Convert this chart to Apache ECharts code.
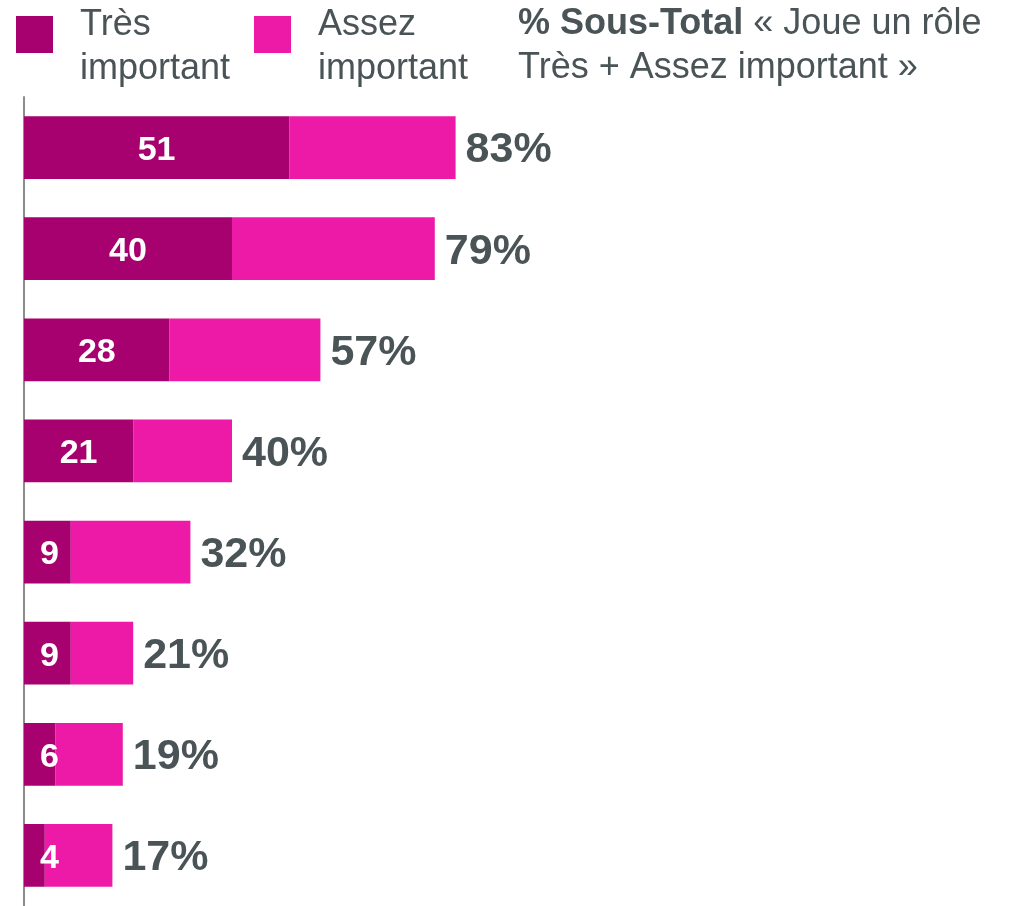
<!DOCTYPE html>
<html>
<head>
<meta charset="utf-8">
<script src="https://cdn.jsdelivr.net/npm/echarts@6/dist/echarts.min.js"></script>
<style>
  html, body { margin: 0; padding: 0; background: #fff; }
  #chart { width: 1012px; height: 906px; }
</style>
</head>
<body>
<div id="chart"></div>
<script>
// données
const categories = ['r1', 'r2', 'r3', 'r4', 'r5', 'r6', 'r7', 'r8'];
const tresImportant = [51, 40, 28, 21, 9, 9, 6, 4];
const sousTotal = [83, 79, 57, 40, 32, 21, 19, 17];
const assezImportant = [32, 39, 29, 19, 23, 12, 13, 13];
const legendNames = ['Très important', 'Assez important'];

const DARK = '#A7006F';
const PINK = '#EC1AA6';
const GREY = '#4A5457';
const FONT = 'Liberation Sans, Arial, sans-serif';

const chart = echarts.init(document.getElementById('chart'));

// textes de légende sur deux lignes (les carrés viennent de la légende)
const legendText = (x, txt) => ({
  type: 'text',
  left: x,
  top: 3,
  style: {
    text: txt,
    fill: GREY,
    font: '36px ' + FONT,
    lineHeight: 44
  }
});

const option = {
  animation: false,
  textStyle: { fontFamily: FONT },
  title: {
    left: 518,
    top: 2,
    padding: 0,
    text: '{b|% Sous-Total}{n| « Joue un rôle}\n{n|Très + Assez important »}',
    textStyle: {
      rich: {
        b: { fontSize: 36, fontWeight: 'bold', color: GREY, lineHeight: 44 },
        n: { fontSize: 36, fontWeight: 'normal', color: GREY, lineHeight: 44 }
      }
    }
  },
  legend: {
    left: 16,
    top: 16,
    padding: 0,
    itemWidth: 37,
    itemHeight: 37,
    itemGap: 201,
    icon: 'rect',
    data: legendNames,
    formatter: () => '',
    selectedMode: false
  },
  graphic: [
    legendText(80, legendNames[0].replace(' ', '\n')),
    legendText(318, legendNames[1].replace(' ', '\n'))
  ],
  grid: { left: 24, top: 97, width: 520, height: 813 },
  xAxis: { type: 'value', min: 0, max: 100, show: false },
  yAxis: {
    type: 'category',
    data: categories,
    inverse: true,
    axisLine: { show: true, lineStyle: { color: '#8C8C8C', width: 2 } },
    axisTick: { show: false },
    axisLabel: { show: false }
  },
  series: [
    {
      name: legendNames[0],
      type: 'bar',
      stack: 'total',
      barCategoryGap: '38%',
      itemStyle: { color: DARK },
      data: tresImportant.map(v => ({
        value: v,
        label: v < 10 ? { position: 'insideLeft', distance: 16 } : { position: 'inside' }
      })),
      label: {
        show: true,
        color: '#fff',
        fontSize: 34,
        fontWeight: 'bold',
        offset: [0, 3]
      }
    },
    {
      name: legendNames[1],
      type: 'bar',
      stack: 'total',
      itemStyle: { color: PINK },
      data: assezImportant,
      label: {
        show: true,
        position: 'right',
        distance: 10,
        color: GREY,
        fontSize: 43,
        fontWeight: 'bold',
        offset: [0, 3],
        formatter: p => sousTotal[p.dataIndex] + '%'
      }
    }
  ]
};

chart.setOption(option);
</script>
</body>
</html>
